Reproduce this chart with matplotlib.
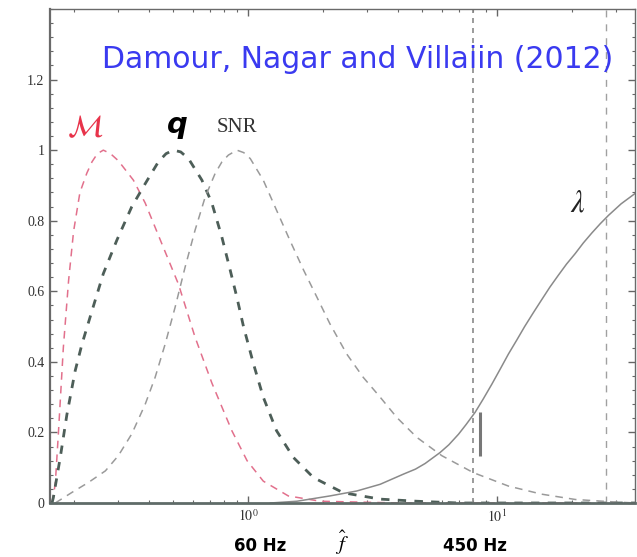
import matplotlib.pyplot as plt
from matplotlib.ticker import FixedLocator, LogLocator, NullFormatter

plt.rcParams['mathtext.fontset'] = 'stix'

# sampled curves, normalised to peak 1, versus reduced frequency f-hat
f_chirp = [0.163, 0.168, 0.173, 0.181, 0.190, 0.199, 0.211, 0.225, 0.236, 0.248, 0.262, 0.28,
           0.301, 0.346, 0.386, 0.450, 0.525, 0.612, 0.715, 0.860, 0.99, 1.15, 1.45, 1.95,
           4.08, 36.0]
chirp_mass = [0.0, 0.054, 0.20, 0.44, 0.63, 0.77, 0.88, 0.935, 0.967, 0.99, 1.0, 0.99,
              0.97, 0.915, 0.85, 0.735, 0.62, 0.47, 0.34, 0.205, 0.12, 0.062, 0.02, 0.005,
              0.0, 0.0]

f_q = [0.163, 0.165, 0.176, 0.187, 0.202, 0.215, 0.236, 0.262, 0.297, 0.341, 0.386, 0.436,
       0.468, 0.501, 0.536, 0.576, 0.652, 0.715, 0.784, 0.847, 0.901, 0.958, 1.05, 1.15,
       1.30, 1.52, 1.83, 2.41, 3.39, 4.76, 7.0, 36.0]
mass_ratio = [0.0, 0.015, 0.13, 0.25, 0.375, 0.45, 0.545, 0.65, 0.745, 0.84, 0.905, 0.967,
              0.99, 1.0, 0.995, 0.976, 0.915, 0.85, 0.754, 0.66, 0.583, 0.50, 0.395, 0.30,
              0.205, 0.129, 0.072, 0.029, 0.011, 0.005, 0.0, 0.0]

f_snr = [0.168, 0.196, 0.228, 0.267, 0.301, 0.341, 0.386, 0.423, 0.464, 0.509, 0.558, 0.612,
         0.672, 0.737, 0.785, 0.833, 0.901, 0.96, 1.02, 1.15, 1.30, 1.47, 1.67, 1.89, 2.13,
         2.49, 2.90, 3.39, 3.96, 4.76, 6.00, 8.03, 11.1, 15.1, 20.6, 27.9, 36.0]
snr = [0.0, 0.03, 0.058, 0.091, 0.134, 0.196, 0.28, 0.356, 0.45, 0.555, 0.668, 0.773,
       0.867, 0.934, 0.967, 0.986, 1.0, 0.993, 0.976, 0.915, 0.83, 0.745, 0.66, 0.583, 0.508,
       0.422, 0.356, 0.30, 0.242, 0.186, 0.134, 0.086, 0.048, 0.025, 0.01, 0.004, 0.0]

f_tidal = [1.23, 1.57, 2.13, 2.73, 3.39, 4.21, 4.7, 5.14, 5.90, 6.4, 7.0, 7.5, 8.16, 8.8,
           9.53, 10.3, 11.1, 12.0, 12.9, 14.0, 15.1, 16.3, 17.6, 19.0, 20.6, 22.2, 24.0, 26.0,
           28.0, 31.5, 35.8]
tidal = [0.0, 0.005, 0.02, 0.034, 0.053, 0.082, 0.096, 0.112, 0.143, 0.165, 0.195, 0.222,
         0.257, 0.295, 0.337, 0.38, 0.422, 0.462, 0.50, 0.54, 0.576, 0.612, 0.645, 0.677,
         0.707, 0.737, 0.765, 0.792, 0.815, 0.848, 0.877]

f_lines = [8.0, 27.4]          # vertical reference frequencies
f_bar = 8.55                   # short marker below the lambda curve
bar_range = [0.134, 0.257]

yticks = [0, 0.2, 0.4, 0.6, 0.8, 1.0, 1.2]
ytick_labels = ['0', '0.2', '0.4', '0.6', '0.8', '1', '1.2']
xticks = [1, 10]
xtick_labels = [r'$10^0$', r'$10^1$']

fig = plt.figure(figsize=(6.37, 5.57), dpi=100)
ax = fig.add_axes([50 / 637, 54 / 557, 585 / 637, 494 / 557])

ax.plot(f_chirp, chirp_mass, color='#e2708c', lw=1.1, dashes=(5, 4))
ax.plot(f_q, mass_ratio, color='#4d5e58', lw=2.0, dashes=(3, 3))
ax.plot(f_snr, snr, color='#9a9a9a', lw=1.1, dashes=(5, 4))
ax.plot(f_tidal, tidal, color='#8a8a8a', lw=1.1)

ax.axvline(f_lines[0], color='#8a8a8a', lw=1.2, dashes=(3, 3))
ax.axvline(f_lines[1], color='#a0a0a0', lw=1.0, dashes=(5, 5))
ax.vlines(f_bar, bar_range[0], bar_range[1], color='#777777', lw=2.2)

ax.set_xscale('log')
ax.set_xlim(0.160, 35.8)
ax.set_ylim(0, 1.4)

ax.set_xticks(xticks)
ax.set_xticklabels(xtick_labels, fontsize=10, color='#333333')
ax.xaxis.set_minor_locator(LogLocator(base=10, subs=range(2, 10)))
ax.xaxis.set_minor_formatter(NullFormatter())
ax.set_yticks(yticks)
ax.set_yticklabels(ytick_labels, fontfamily='Liberation Serif', fontsize=10, color='#333333')
ax.yaxis.set_minor_locator(FixedLocator([i * 0.04 for i in range(36)]))

ax.tick_params(which='both', direction='in', top=True, right=True, color='#666666')
ax.tick_params(which='major', length=5, width=1.0, pad=4)
ax.tick_params(which='minor', length=2.5, width=0.8)
for side in ax.spines.values():
    side.set_color('#6a6a6a')
    side.set_linewidth(1.0)
ax.spines['bottom'].set_linewidth(2.0)
ax.spines['bottom'].set_color('#5f6b68')
ax.spines['left'].set_linewidth(1.6)

# curve labels
ax.text(0.222, 1.065, r'$\mathcal{M}$', color='#e8334a', fontsize=22, ha='center', va='center')
ax.text(0.52, 1.07, 'q', color='black', fontsize=21, fontweight='bold', fontstyle='italic',
        ha='center', va='center')
ax.text(0.90, 1.065, 'SNR', color='#333333', fontsize=15, fontfamily='Liberation Serif',
        ha='center', va='center')
ax.text(21.0, 0.85, r'$\lambda$', color='#222222', fontsize=22, ha='center', va='center')

ax.text(0.526, 0.898, 'Damour, Nagar and Villaiin (2012)', transform=ax.transAxes,
        color='#3a3af0', fontsize=21.5, ha='center', va='center')

# frequency annotations under the axis
fig.text(260 / 637, 1 - 546 / 557, '60 Hz', fontsize=12, fontweight='bold', ha='center', va='center')
fig.text(475 / 637, 1 - 546 / 557, '450 Hz', fontsize=12, fontweight='bold', ha='center', va='center')
fig.text(342 / 637, 1 - 543 / 557, r'$\hat{f}$', fontsize=15, ha='center', va='center')

fig.savefig('out.png', dpi=100, facecolor='white')
